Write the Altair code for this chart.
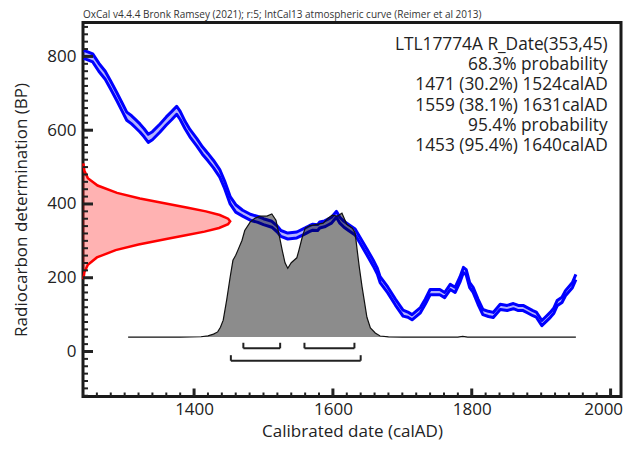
import altair as alt
import pandas as pd

# ---------------- data ----------------
# IntCal13 calibration curve (mean BP and 1-sigma half width)
curve_year = [1241, 1245, 1254, 1263, 1272, 1280, 1289, 1296, 1303, 1310,
              1315, 1322, 1328, 1334, 1340, 1351, 1360, 1368, 1375, 1380,
              1387, 1394, 1404, 1412, 1420, 1428, 1437, 1444, 1452, 1460,
              1470, 1481, 1492, 1500, 1512, 1520, 1525, 1535, 1548, 1560,
              1566, 1571, 1578, 1581, 1588, 1593, 1598, 1605, 1610, 1616,
              1622, 1632, 1639, 1649, 1658, 1664, 1668, 1679, 1690, 1701,
              1708, 1714, 1726, 1733, 1740, 1754, 1761, 1769, 1776, 1783,
              1788, 1792, 1797, 1802, 1809, 1816, 1824, 1831, 1841, 1851,
              1860, 1867, 1874, 1880, 1888, 1893, 1901, 1907, 1913, 1918,
              1923, 1930, 1935, 1945, 1950]
curve_bp = [805, 803, 796, 770, 749, 722, 690, 664, 638, 628,
            619, 606, 593, 578, 585, 606, 625, 640, 654, 640,
            614, 592, 567, 545, 527, 508, 483, 452, 410, 388,
            375, 364, 358, 352, 345, 332, 320, 313, 316, 327,
            333, 337, 336, 343, 346, 351, 356, 372, 356, 345,
            337, 324, 302, 270, 240, 218, 195, 167, 134, 104,
            100, 93, 112, 135, 161, 161, 153, 175, 167, 195,
            221, 215, 180, 167, 135, 107, 102, 99, 121, 118,
            123, 118, 118, 112, 104, 100, 77, 88, 99, 110,
            131, 140, 158, 180, 202]
curve_sigma = [11, 11, 11, 11, 11, 11, 11, 11, 11, 11,
               11, 11, 11, 11, 11, 11, 11, 11, 11, 11,
               10, 10, 10, 10, 10, 10, 10, 10, 10, 10,
               8, 8, 8, 8, 8, 8, 8, 8, 8, 8,
               8, 8, 8, 8, 8, 8, 8, 8, 8, 8,
               8, 8, 8, 8, 8, 8, 8, 8, 8, 8,
               7, 7, 7, 7, 7, 7, 7, 7, 7, 7,
               7, 7, 7, 7, 7, 7, 7, 7, 7, 7,
               7, 7, 7, 7, 7, 7, 7, 7, 7, 7,
               7, 7, 7, 7, 7]

# calibrated (posterior) probability, relative to its maximum
prob_year = [1305, 1380, 1410, 1420, 1428, 1434, 1438, 1442, 1447, 1452,
             1456, 1460, 1463, 1469, 1473, 1481, 1488, 1495, 1505, 1512,
             1518, 1522, 1527, 1531, 1535, 1540, 1544, 1548, 1551, 1556,
             1560, 1567, 1577, 1586, 1593, 1599, 1606, 1613, 1620, 1628,
             1632, 1635, 1638, 1642, 1645, 1649, 1654, 1661, 1668, 1680,
             1700, 1780, 1787, 1794, 1950]
prob_rel = [0, 0, 0.003, 0.01, 0.024, 0.042, 0.08, 0.137, 0.30, 0.485,
            0.62, 0.66, 0.70, 0.78, 0.86, 0.93, 0.96, 0.976, 0.976, 0.994,
            0.943, 0.84, 0.70, 0.60, 0.556, 0.60, 0.62, 0.64, 0.70, 0.81,
            0.88, 0.90, 0.91, 0.92, 0.96, 0.985, 0.976, 1.0, 0.91, 0.88,
            0.84, 0.70, 0.565, 0.405, 0.30, 0.16, 0.074, 0.033, 0.009, 0.002,
            0, 0, 0.006, 0, 0]

# radiocarbon date R_Date(353,45) drawn along the y axis (extent in years)
rdate_bp = [510, 490, 470, 450, 430, 415, 400, 390, 380, 370, 360, 353,
            345, 335, 325, 315, 305, 290, 275, 255, 235, 215, 196]
rdate_extent = [0.5, 2, 7, 21, 49, 82, 123, 151, 177, 197, 209, 212,
                209, 196, 175, 148, 120, 80, 47, 20, 7, 2, 0.5]

# highest probability density ranges
range68_from = [1471, 1559]
range68_to = [1524, 1631]
range95_from = [1453]
range95_to = [1640]

x_major = [1400, 1600, 1800, 2000]
y_major = [0, 200, 400, 600, 800]
x_minor = [v for v in range(1240, 2015, 20) if v not in x_major]
y_minor = [v for v in range(-120, 892, 20) if v not in y_major]

info_lines = ["LTL17774A R_Date(353,45)", "68.3% probability",
              "1471 (30.2%) 1524calAD", "1559 (38.1%) 1631calAD",
              "95.4% probability", "1453 (95.4%) 1640calAD"]
title_text = ("OxCal v4.4.4 Bronk Ramsey (2021); r:5; "
              "IntCal13 atmospheric curve (Reimer et al 2013)")

# ---------------- layout / style ----------------
W, H = 538, 374
FONT = "Open Sans"
INK = "#222222"
X0 = 1240
PROB_BASE = 39
PROB_HEIGHT = 336

xs = alt.Scale(domain=[1240, 2015], nice=False, zero=False)
ys = alt.Scale(domain=[-122, 892], nice=False, zero=False)
xaxis = alt.Axis(values=x_major, title="Calibrated date (calAD)", grid=False,
                 domain=False, ticks=False, labelPadding=5, titlePadding=6,
                 labelFlush=11, labelFlushOffset=12, format="d")
yaxis = alt.Axis(values=y_major, title="Radiocarbon determination (BP)",
                 grid=False, domain=False, ticks=False, labelPadding=7,
                 titlePadding=16)


def X(f):
    return alt.X(f, type="quantitative", scale=xs, axis=xaxis)


def Y(f):
    return alt.Y(f, type="quantitative", scale=ys, axis=yaxis)


curve = pd.DataFrame({"year": curve_year, "bp": curve_bp, "sig": curve_sigma})
curve["lo"] = curve["bp"] - curve["sig"]
curve["hi"] = curve["bp"] + curve["sig"]
prob = pd.DataFrame({"year": prob_year, "p": prob_rel})
rdate = pd.DataFrame({"bp": rdate_bp, "ext": rdate_extent})

red_area = alt.Chart(rdate).transform_calculate(
    xr=f"{X0} + datum.ext").mark_area(
    orient="horizontal", color="#ff0000", opacity=0.3).encode(
    y=Y("bp"), x=X("xr"), x2=alt.datum(X0))
red_line = alt.Chart(rdate).transform_calculate(
    xr=f"{X0} + datum.ext").mark_line(
    color="#ff0000", strokeWidth=2.5).encode(
    y=Y("bp"), x=X("xr"), order=alt.Order("bp:Q"))

band = alt.Chart(curve).mark_area(color="#0000ff", opacity=0.3).encode(
    x=X("year"), y=Y("lo"), y2="hi")
band_hi = alt.Chart(curve).mark_line(color="#0000ff", strokeWidth=3,
                                     strokeJoin="round").encode(
    x=X("year"), y=Y("hi"))
band_lo = alt.Chart(curve).mark_line(color="#0000ff", strokeWidth=3,
                                     strokeJoin="round").encode(
    x=X("year"), y=Y("lo"))

post = alt.Chart(prob).transform_calculate(
    top=f"{PROB_BASE} + datum.p * {PROB_HEIGHT}").mark_area(
    color="#000000", fillOpacity=0.45,
    line={"color": "#111111", "strokeWidth": 1.2}).encode(
    x=X("year"), y=Y("top"), y2=alt.datum(PROB_BASE))

ranges = pd.DataFrame({
    "a": range68_from + range95_from,
    "b": range68_to + range95_to,
    "lev": [8.7] * len(range68_from) + [-25] * len(range95_from),
})
ranges["levtop"] = ranges["lev"] + 15
br_h = alt.Chart(ranges).mark_rule(color=INK, strokeWidth=2).encode(
    x=X("a"), x2="b", y=Y("lev"))
ends = pd.concat([ranges.rename(columns={"a": "x"})[["x", "lev", "levtop"]],
                  ranges.rename(columns={"b": "x"})[["x", "lev", "levtop"]]])
br_v = alt.Chart(ends).mark_rule(color=INK, strokeWidth=2).encode(
    x=X("x"), y=Y("lev"), y2="levtop")

ymaj = alt.Chart(pd.DataFrame({"v": y_major})).mark_rule(
    color=INK, strokeWidth=3).encode(y=Y("v"), x=alt.value(0), x2=alt.value(10))
ymin = alt.Chart(pd.DataFrame({"v": y_minor})).mark_rule(
    color=INK, strokeWidth=2).encode(y=Y("v"), x=alt.value(0), x2=alt.value(5))
xmaj = alt.Chart(pd.DataFrame({"v": x_major})).mark_rule(
    color=INK, strokeWidth=3).encode(x=X("v"), y=alt.value(H), y2=alt.value(H - 8))
xmin = alt.Chart(pd.DataFrame({"v": x_minor})).mark_rule(
    color=INK, strokeWidth=2).encode(x=X("v"), y=alt.value(H), y2=alt.value(H - 4))

info = alt.Chart(pd.DataFrame({"t": ["\n".join(info_lines)]})).mark_text(
    align="right", baseline="alphabetic", lineBreak="\n", lineHeight=20.2,
    font=FONT, fontSize=17.3, color=INK).encode(
    text="t:N", x=alt.value(524.7), y=alt.value(27.5))

chart = alt.layer(
    red_area, red_line, band, band_hi, band_lo, post, br_h, br_v,
    ymin, ymaj, xmin, xmaj, info
).properties(
    width=W, height=H,
    title=alt.TitleParams(text=title_text, anchor="start", frame="group",
                          fontSize=10, font=FONT, fontWeight="normal",
                          color="#333333", offset=3),
    autosize=alt.AutoSizeParams(type="none"),
    padding={"left": 75, "top": 14.5, "right": 2, "bottom": 45},
).configure_view(
    stroke="#1a1a1a", strokeWidth=3
).configure_axis(
    labelFont=FONT, labelFontSize=17, labelColor=INK,
    titleFont=FONT, titleFontSize=17, titleFontWeight="normal", titleColor=INK
)

chart.save("out.html", embed_options={"renderer": "svg", "actions": False})
